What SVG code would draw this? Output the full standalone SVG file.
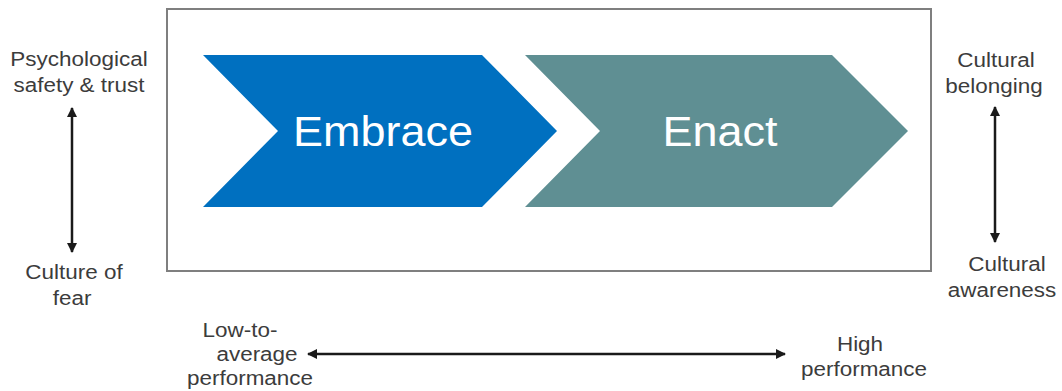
<svg xmlns="http://www.w3.org/2000/svg" width="1062" height="391" viewBox="0 0 1062 391">
  <style>
    .lbl { font-family: "Liberation Sans", Arial, sans-serif; font-size: 21px; fill: #3c3c3c; text-anchor: middle; }
    .big { font-family: "Liberation Sans", Arial, sans-serif; font-size: 42px; fill: #ffffff; text-anchor: middle; }
    .axis { stroke: #1a1a1a; stroke-width: 2.5; fill: none; marker-start: url(#head); marker-end: url(#head); }
  </style>
  <defs>
    <marker id="head" viewBox="0 0 10 10" refX="9" refY="5" markerWidth="11" markerHeight="10" markerUnits="userSpaceOnUse" orient="auto-start-reverse">
      <path d="M0,0 L10,5 L0,10 Z" fill="#1a1a1a"/>
    </marker>
  </defs>

  <rect width="1062" height="391" fill="#ffffff"/>

  <!-- frame around the two stages -->
  <rect id="frame" x="167" y="9" width="764" height="262" fill="#ffffff" stroke="#7f7f7f" stroke-width="2"/>

  <g id="embrace">
    <polygon points="203,55 482,55 557,131 482,207 203,207 278,131" fill="#0070c0"/>
    <text class="big" transform="translate(383,146) scale(1.07,1)">Embrace</text>
  </g>

  <g id="enact">
    <polygon points="525,55 832,55 908,131 832,207 525,207 600,131" fill="#5f8f93"/>
    <text class="big" transform="translate(720,146) scale(1.07,1)">Enact</text>
  </g>

  <g id="psych-top">
    <text class="lbl" transform="translate(79,66) scale(1.07,1)">Psychological</text>
    <text class="lbl" transform="translate(79,92) scale(1.07,1)">safety &amp; trust</text>
  </g>
  <g id="fear-bottom">
    <text class="lbl" transform="translate(74,279) scale(1.07,1)">Culture of</text>
    <text class="lbl" transform="translate(72,305) scale(1.07,1)">fear</text>
  </g>

  <g id="belonging-top">
    <text class="lbl" transform="translate(996,67) scale(1.07,1)">Cultural</text>
    <text class="lbl" transform="translate(994,93) scale(1.07,1)">belonging</text>
  </g>
  <g id="awareness-bottom">
    <text class="lbl" transform="translate(1007,271) scale(1.07,1)">Cultural</text>
    <text class="lbl" transform="translate(1002,297) scale(1.07,1)">awareness</text>
  </g>

  <g id="low-perf">
    <text class="lbl" transform="translate(240,337) scale(1.07,1)">Low-to-</text>
    <text class="lbl" transform="translate(257,361) scale(1.07,1)">average</text>
    <text class="lbl" transform="translate(250,385) scale(1.07,1)">performance</text>
  </g>
  <g id="high-perf">
    <text class="lbl" transform="translate(860,351) scale(1.07,1)">High</text>
    <text class="lbl" transform="translate(864,376) scale(1.07,1)">performance</text>
  </g>

  <g id="connectors">
    <line class="axis" x1="72" y1="108" x2="72" y2="252"/>
    <line class="axis" x1="995" y1="107" x2="995" y2="242"/>
    <line class="axis" x1="308" y1="354" x2="785" y2="354"/>
  </g>
</svg>
